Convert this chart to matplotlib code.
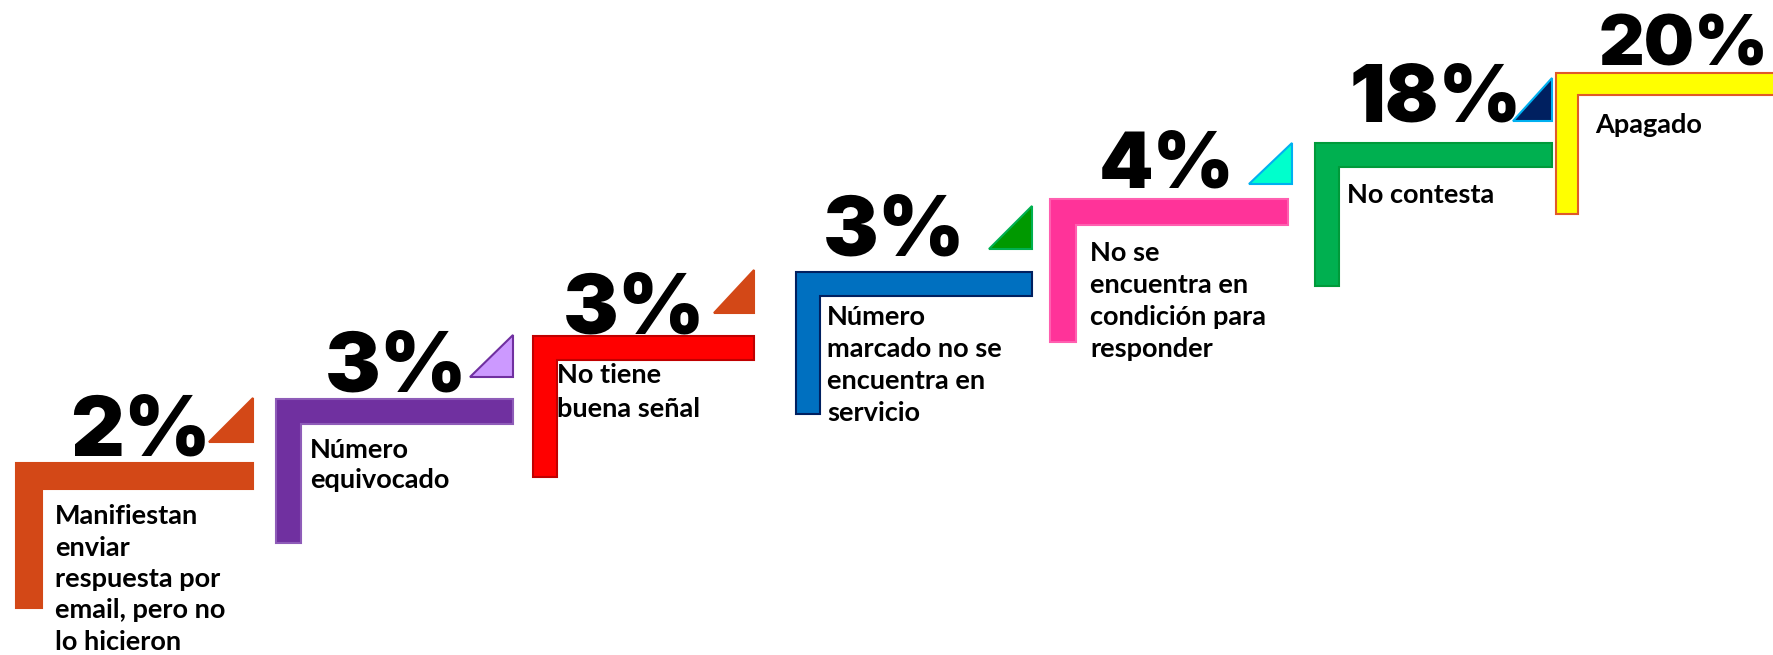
import matplotlib
matplotlib.use("Agg")
import matplotlib.pyplot as plt
from matplotlib.patches import Polygon

# ---- data ----
values = [2, 3, 3, 3, 4, 18, 20]
labels = [
    ["Manifiestan", "enviar", "respuesta por", "email, pero no", "lo hicieron"],
    ["Número", "equivocado"],
    ["No tiene", "buena señal"],
    ["Número", "marcado no se", "encuentra en", "servicio"],
    ["No se", "encuentra en", "condición para", "responder"],
    ["No contesta"],
    ["Apagado"],
]

# ---- layout (pixel coordinates, origin top-left) ----
step_left = [16, 276, 533, 796, 1050, 1315, 1556]
step_top = [463, 399, 336, 272, 199, 143, 73]
step_right = [253, 513, 754, 1032, 1288, 1552, 1790]
step_bottom = [608, 543, 477, 414, 342, 286, 214]
bar_th = [26, 25, 24, 24, 26, 24, 22]
face_cols = ["#D34817", "#7030A0", "#FF0000", "#0070C0", "#FF3399", "#00B050", "#FFFF00"]
edge_cols = ["#D34817", "#8E5CB8", "#C00000", "#002060", "#FF5FB0", "#009A3A", "#E05A28"]

tri_left = [209, 470, 714, 989, 1249, 1513]
tri_right = [253, 513, 754, 1032, 1292, 1552]
tri_top = [398, 335, 270, 206, 143, 78]
tri_bottom = [442, 377, 313, 249, 184, 121]
tri_face = ["#D34817", "#CC99FF", "#D34817", "#009900", "#00FFCC", "#002060"]
tri_edge = ["#D34817", "#7030A0", "#D34817", "#00B050", "#00B0F0", "#00B0F0"]

pct_x = [70, 325, 563, 823, 1099, 1350, 1599]
pct_base = [456, 392, 333, 255, 188, 122, 65]
pct_size = [60, 60, 60, 60, 56, 57, 51]

lab_x = [55, 310, 557, 827, 1090, 1347, 1595]
lab_base = [524, 458, 383, 325, 261, 203, 133]
lab_gap = [31.5, 30, 34, 32, 32, 32, 32]

W, H = 1773, 655
fig = plt.figure(figsize=(W / 100, H / 100), dpi=100)
ax = fig.add_axes([0, 0, 1, 1])
ax.set_xlim(0, W)
ax.set_ylim(H, 0)
ax.axis("off")

for i, v in enumerate(values):
    L, T, R, B, t = step_left[i], step_top[i], step_right[i], step_bottom[i], bar_th[i]
    pts = [(L, T), (R, T), (R, T + t), (L + t, T + t), (L + t, B), (L, B)]
    ax.add_patch(Polygon(pts, closed=True, facecolor=face_cols[i],
                         edgecolor=edge_cols[i], linewidth=1.5, zorder=2))
    if i < len(tri_left):
        tp = [(tri_left[i], tri_bottom[i]), (tri_right[i], tri_bottom[i]), (tri_right[i], tri_top[i])]
        ax.add_patch(Polygon(tp, closed=True, facecolor=tri_face[i],
                             edgecolor=tri_edge[i], linewidth=1.5, zorder=3))
    ax.text(pct_x[i], pct_base[i], f"{v}%", ha="left", va="baseline",
            fontsize=pct_size[i], fontweight="black", family=["Inter", "DejaVu Sans"],
            color="black", zorder=4)
    for j, line in enumerate(labels[i]):
        ax.text(lab_x[i], lab_base[i] + j * lab_gap[i], line, ha="left", va="baseline",
                fontsize=19.5, fontweight="bold", family=["Lato", "DejaVu Sans"],
                color="black", zorder=4)

fig.savefig("out.png", dpi=100, facecolor="white")
